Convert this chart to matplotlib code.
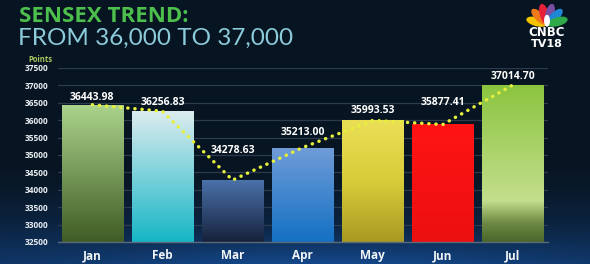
import numpy as np
import matplotlib.pyplot as plt
from matplotlib.colors import LinearSegmentedColormap
from matplotlib.patches import Ellipse

# ----- data -----
months = ["Jan", "Feb", "Mar", "Apr", "May", "Jun", "Jul"]
values = [36443.98, 36256.83, 34278.63, 35213.00, 35993.53, 35877.41, 37014.70]
y_ticks = [32500, 33000, 33500, 34000, 34500, 35000, 35500, 36000, 36500, 37000, 37500]

# label offset above bar top (points)
label_offsets = [1.5, 2, 17, 7, 3, 12, 2]

# bar gradients, bottom -> top
bar_grads = [
    [(0.0, "#3f5c25"), (1.0, "#acd48c")],
    [(0.0, "#16b6c6"), (1.0, "#dcecee")],
    [(0.0, "#16213b"), (1.0, "#4b72aa")],
    [(0.0, "#1470c4"), (1.0, "#709cd8")],
    [(0.0, "#a89a22"), (0.5, "#d8cc3a"), (1.0, "#ebdf56")],
    [(0.0, "#ec1010"), (1.0, "#ff1414")],
    [(0.0, "#4a662c"), (0.12, "#6e8a44"), (0.26, "#c3de8c"), (1.0, "#8bc53f")],
]

W, H = 590, 264
fig = plt.figure(figsize=(W / 100, H / 100), dpi=100)

# background
bg = fig.add_axes([0, 0, 1, 1])
yy, xx = np.mgrid[0:1:264j, 0:1:590j]
base_top = np.array([0.03, 0.08, 0.13])
base_bot = np.array([0.06, 0.20, 0.38])
t = np.clip((yy - 0.6) / 0.4, 0, 1) ** 1.5
glow = np.exp(-((xx - 0.55) / 0.4) ** 2) * np.clip((yy - 0.85) / 0.15, 0, 1)
img = base_top[None, None, :] * (1 - t[..., None]) + base_bot[None, None, :] * t[..., None]
img = img + glow[..., None] * np.array([0.02, 0.08, 0.16])
img = np.clip(img, 0, 1)
bg.imshow(img, extent=[0, 1, 0, 1], aspect="auto", origin="upper")
bg.set_xlim(0, 1)
bg.set_ylim(0, 1)
bg.axis("off")

# titles
fig.text(19 / W, 1 - 17 / H, "SENSEX TREND:", color="#4cbf4c", fontsize=16,
         fontweight="bold", family="Open Sans", va="center", ha="left")
fig.text(18 / W, 1 - 38 / H, "FROM 36,000 TO 37,000", color="#8ccbd9", fontsize=17.5,
         fontweight="normal", family="Lato", va="center", ha="left")

# logo
logo = fig.add_axes([518 / W, 1 - 50 / H, 58 / W, 48 / H])
logo.set_xlim(-1.93, 1.93)
logo.set_ylim(-1.7, 1.5)
logo.axis("off")
feather_colors = ["#f5c400", "#f07a1a", "#e8213a", "#7a4ea3", "#1e88d6", "#2eaa4a"]
for i, c in enumerate(feather_colors):
    ang = 165 - i * 30
    r = np.radians(ang)
    logo.add_patch(Ellipse((0.72 * np.cos(r), 0.72 * np.sin(r)), 1.3, 0.5,
                           angle=ang, color=c))
logo.add_patch(Ellipse((0, 0.25), 0.3, 0.7, color="white"))
logo.text(0, -0.5, "CNBC", color="white", fontsize=8.5, fontweight="heavy",
          ha="center", va="center", family="DejaVu Sans")
logo.text(0, -1.3, "TV18", color="white", fontsize=8, fontweight="heavy",
          ha="center", va="center", family="DejaVu Sans")

# main chart
ax = fig.add_axes([58 / W, 1 - 242 / H, 490 / W, 174 / H])
ax.patch.set_alpha(0)
x = np.arange(len(months))
bars = ax.bar(x, values, width=0.875, bottom=0, color="none", zorder=2)

for b, v, stops in zip(bars, values, bar_grads):
    cmap = LinearSegmentedColormap.from_list("g", stops)
    grad = np.linspace(1, 0, 256).reshape(-1, 1)
    x0 = b.get_x()
    im = ax.imshow(grad, cmap=cmap, vmin=0, vmax=1, aspect="auto",
                   extent=[x0, x0 + b.get_width(), 32500, v], zorder=2)
    im.set_clip_path(b)

ax.set_xlim(-0.49, 6.5)
ax.set_ylim(32500, 37500)

# dotted trend line
ax.plot(x, values, color="#e6f03c", lw=2.5, linestyle=(0, (0.05, 2.0)),
        dash_capstyle="round", solid_capstyle="round", zorder=4)

for xi, v, off in zip(x, values, label_offsets):
    ax.annotate(f"{v:.2f}", (xi, v), xytext=(0, off), textcoords="offset points",
                ha="center", va="bottom", color="white", fontsize=7.5,
                fontweight="bold", family="Open Sans", zorder=5)

ax.set_yticks(y_ticks)
ax.set_yticklabels([str(t) for t in y_ticks])
ax.set_xticks(x)
ax.set_xticklabels(months)
ax.grid(axis="y", color="#2c3c4c", lw=0.9, zorder=0)
ax.set_axisbelow(True)
for s in ["top", "right", "left"]:
    ax.spines[s].set_visible(False)
ax.spines["bottom"].set_color("#5a6a78")
ax.spines["bottom"].set_linewidth(1.0)
ax.tick_params(axis="y", length=0, pad=7, labelsize=6, labelcolor="#e8eef2")
ax.tick_params(axis="x", length=0, pad=5, labelsize=8.5, labelcolor="#f2f5f8")
for lab in ax.get_yticklabels():
    lab.set_fontweight("bold")
    lab.set_family("Open Sans")
for lab in ax.get_xticklabels():
    lab.set_fontweight("bold")
    lab.set_family("Open Sans")

fig.text(40 / W, 1 - 60 / H, "Points", color="#a8c660", fontsize=5.5,
         fontweight="bold", ha="center", va="center", family="Open Sans")

fig.savefig("out.png", dpi=100)
